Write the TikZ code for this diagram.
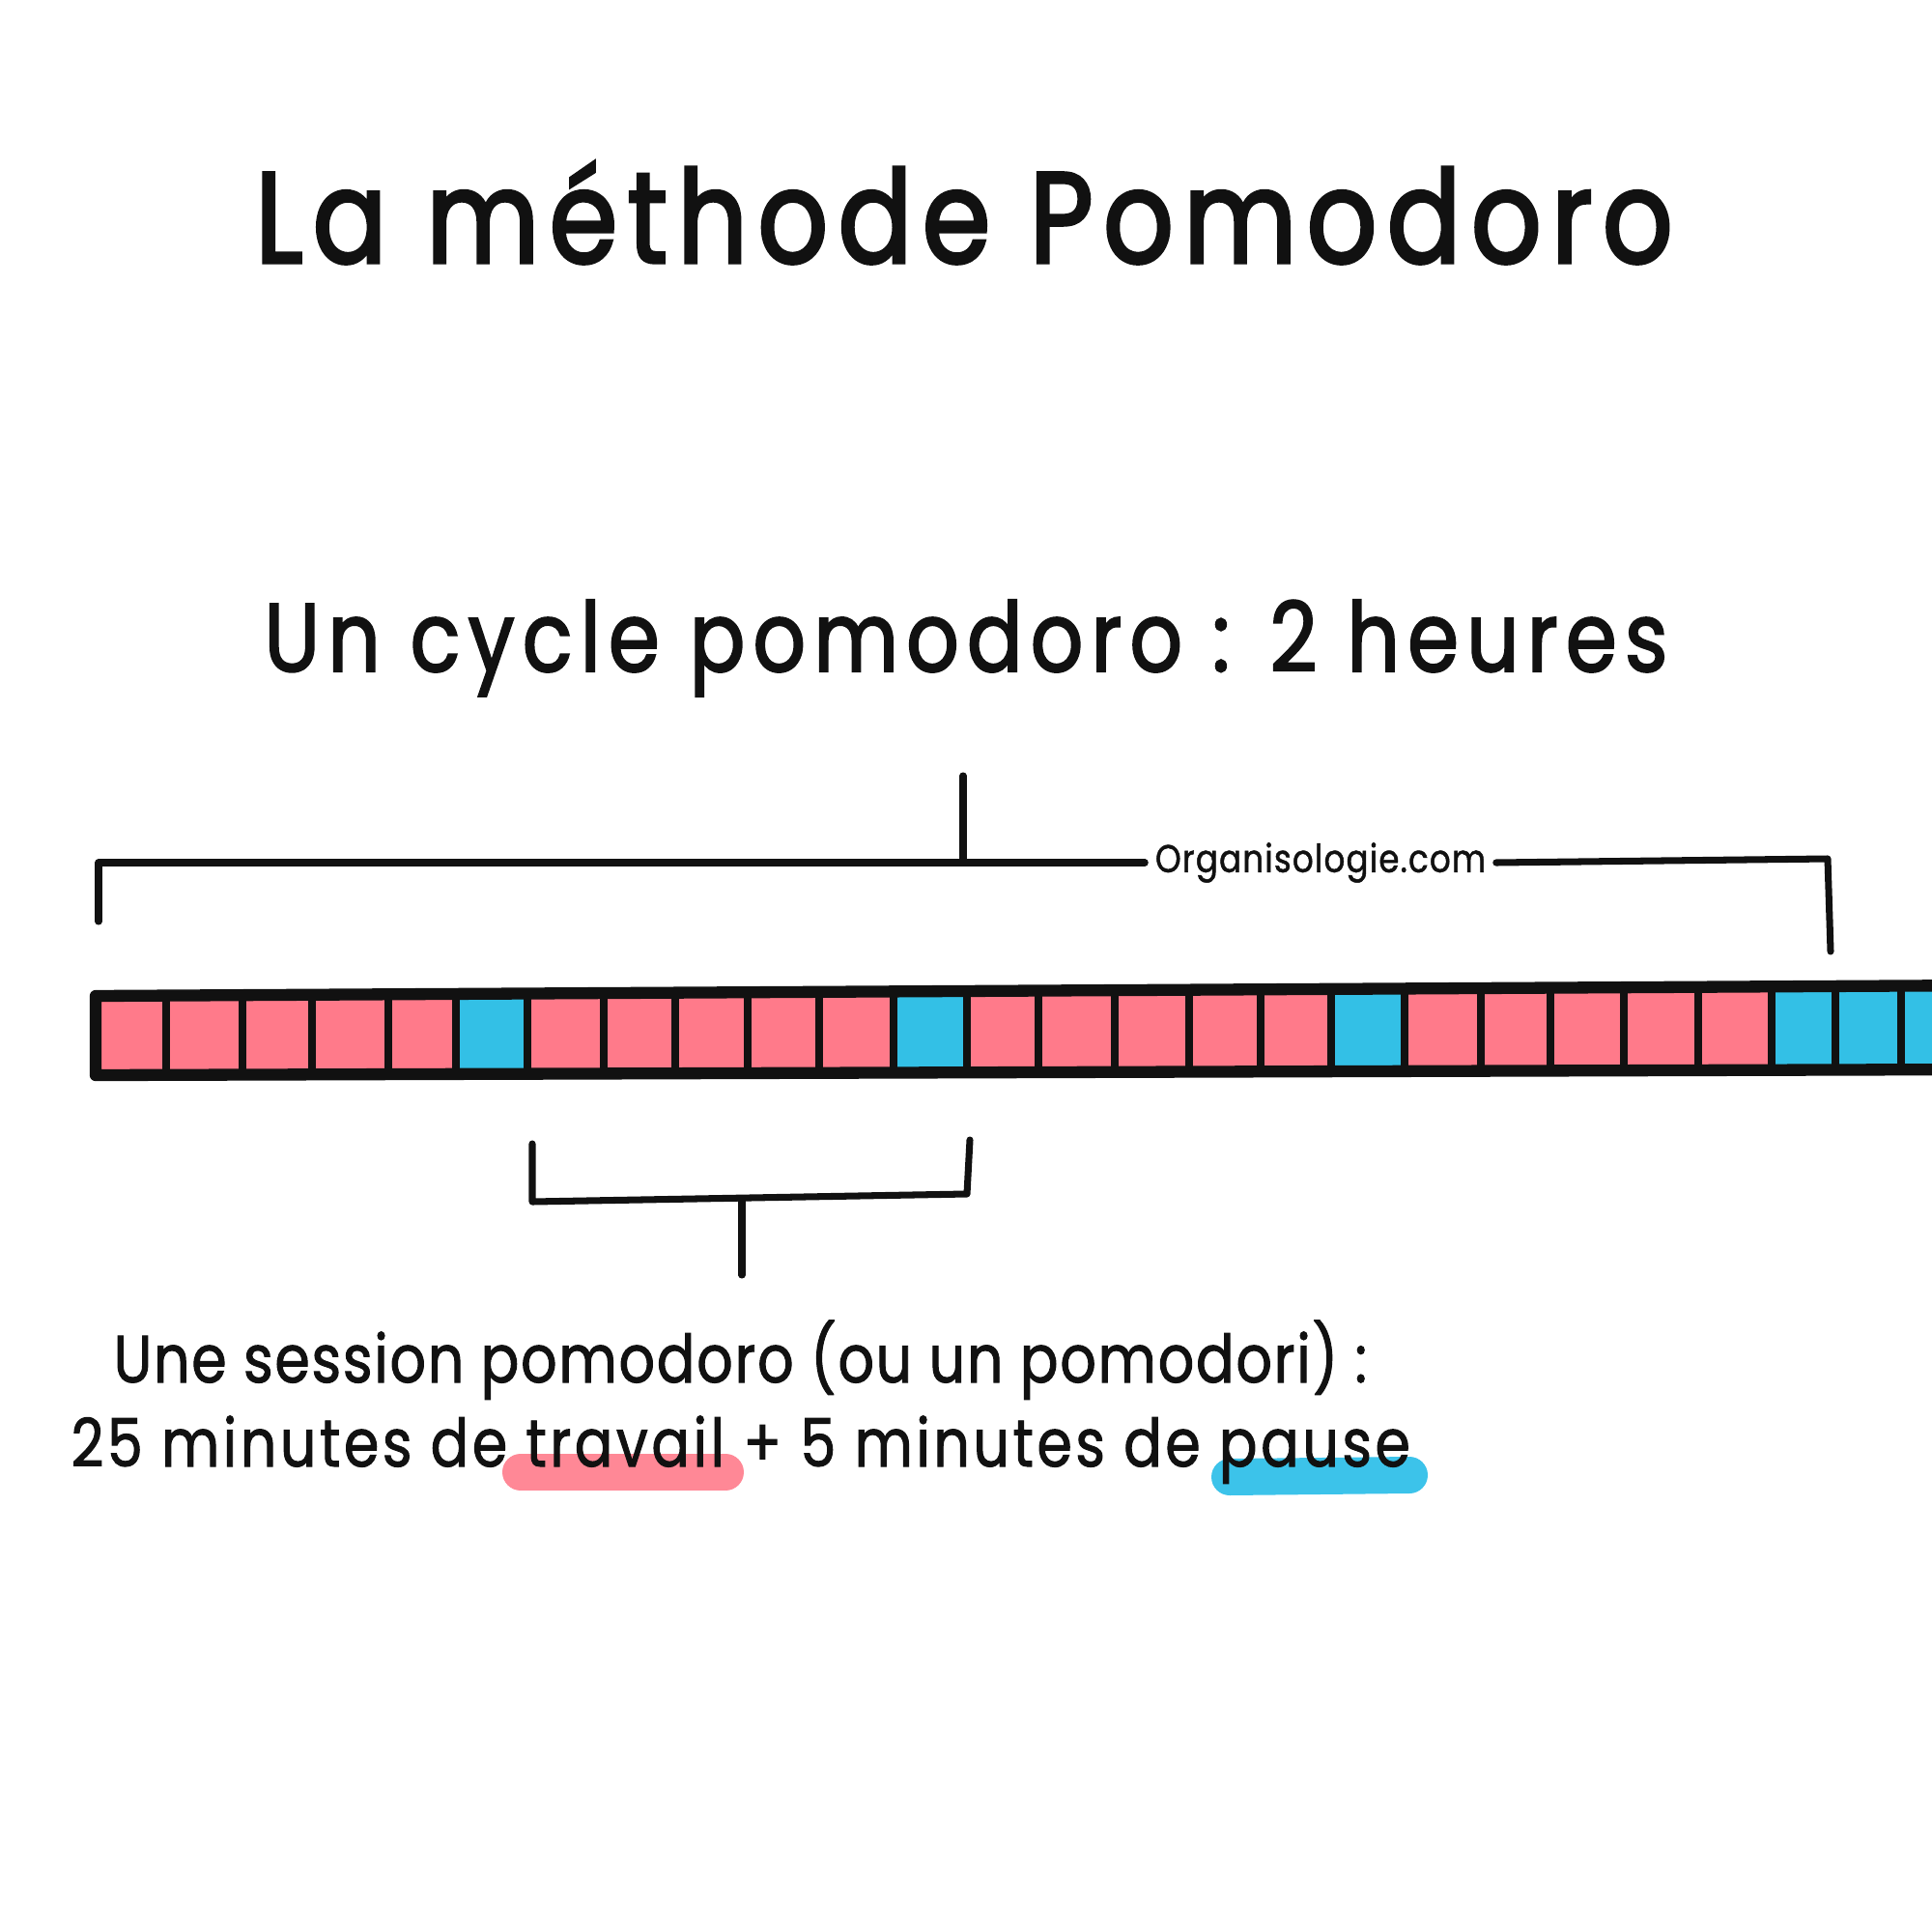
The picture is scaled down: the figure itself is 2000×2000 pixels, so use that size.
\documentclass[tikz,border=0pt]{standalone}
\usepackage{fontspec}
\setmainfont{Poppins}
\newfontfamily\titlefont{Poppins}[FakeBold=2.5,FakeStretch=0.85,LetterSpace=7.8]
\newfontfamily\subfont{Poppins}[FakeBold=2,FakeStretch=0.85,LetterSpace=8.2]
\newfontfamily\lineonefont{Poppins}[FakeBold=1.4,FakeStretch=0.85,LetterSpace=2.6]
\newfontfamily\linetwofont{Poppins}[FakeBold=1.4,FakeStretch=0.85,LetterSpace=5.2]
\newfontfamily\sitefont{Poppins}[FakeBold=1.2,FakeStretch=0.85,LetterSpace=3]
\definecolor{barpink}{HTML}{FF7A8A}
\definecolor{barblue}{HTML}{33C0E6}
\definecolor{hlpink}{HTML}{FF8896}
\definecolor{hlblue}{HTML}{3CC3EA}
\definecolor{ink}{HTML}{111111}
\begin{document}
\begin{tikzpicture}[x=0.01cm,y=-0.01cm,
  barborder/.style={draw=ink,line width=3.5pt,line join=round,line cap=round},
  divider/.style={draw=ink,line width=2.3pt},
  bracket/.style={draw=ink,line width=2pt,line join=round,line cap=round},
  hl/.style={line width=10.8pt,line cap=round},
  titletext/.style={text=ink,inner sep=0pt,font=\fontsize{38}{40}\titlefont},
  subtext/.style={text=ink,inner sep=0pt,font=\fontsize{28.5}{30}\subfont},
  bodyone/.style={text=ink,inner sep=0pt,font=\fontsize{19.6}{22}\lineonefont},
  bodytwo/.style={text=ink,inner sep=0pt,font=\fontsize{19.6}{22}\linetwofont},
  sitetext/.style={text=ink,inner xsep=0.1cm,inner ysep=0pt,font=\fontsize{11.4}{12}\sitefont}]
\useasboundingbox (0,0) rectangle (2000,2000);
\fill[white] (0,0) rectangle (2000,2000);

% titles
\node[titletext,anchor=base] (title) at (998,272) {La méthode Pomodoro};
\node[subtext,anchor=base] (subtitle) at (1000,695) {Un cycle pomodoro : 2 heures};

% bar
\coordinate (btl) at (99,1031);
\coordinate (btr) at (2060,1020);
\coordinate (bbr) at (2060,1107);
\coordinate (bbl) at (99,1113);
\fill[barpink] (btl)--(btr)--(bbr)--(bbl)--cycle;
\begin{scope}
  \clip (btl)--(btr)--(bbr)--(bbl)--cycle;
  \foreach \a/\b in {472/546,925/1001,1378/1454,1834/1900,1900/1968,1968/2060}
    \fill[barblue] (\a,1000) rectangle (\b,1130);
  \foreach \x in {172,251,323,402,472,546,625,699,774,848,925,1001,1075,1154,1231,1305,1378,1454,1533,1605,1681,1758,1834,1900,1968}
    \draw[divider] (\x,1000)--(\x,1130);
\end{scope}
\draw[barborder] (btr)--(btl)--(bbl)--(bbr);

% top bracket
\coordinate (tl0) at (102,954);
\coordinate (tl1) at (102,893);
\coordinate (tc) at (997,892);
\coordinate (tctop) at (997,803);
\coordinate (tr1) at (1892,889);
\coordinate (tr0) at (1895,985);
\node[sitetext] (site) at (1367,893) {Organisologie.com};
\draw[bracket] (tl0)--(tl1)--(site.west);
\draw[bracket] (site.east)--(tr1)--(tr0);
\draw[bracket] (tc)--(tctop);

% bottom bracket
\coordinate (bl0) at (551,1184);
\coordinate (bl1) at (551,1244);
\coordinate (br1) at (1001,1236);
\coordinate (br0) at (1004,1180);
\coordinate (bc) at (768,1242);
\coordinate (bcbot) at (768,1320);
\draw[bracket] (bl0)--(bl1)--(br1)--(br0);
\draw[bracket] (bc)--(bcbot);

% highlights
\coordinate (h1a) at (539,1524);
\coordinate (h1b) at (751,1524);
\coordinate (h2a) at (1273,1529);
\coordinate (h2b) at (1459,1527);
\draw[hl,hlpink] (h1a)--(h1b);
\draw[hl,hlblue] (h2a)--(h2b);

% body text
\node[bodyone,anchor=base west] (line1) at (117,1431) {Une session pomodoro (ou un pomodori) :};
\node[bodytwo,anchor=base west] (line2) at (73,1518) {25 minutes de travail + 5 minutes de pause};
\end{tikzpicture}
\end{document}
